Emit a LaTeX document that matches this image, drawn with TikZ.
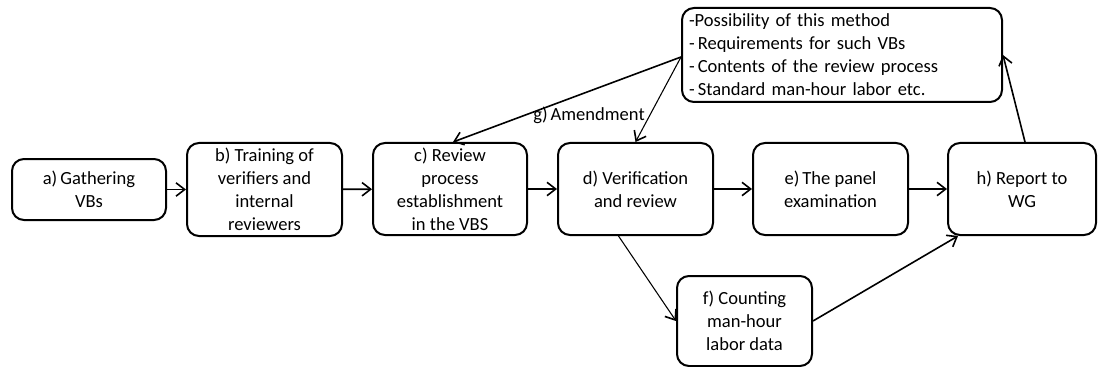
\documentclass[tikz,border=0pt]{standalone}
\usepackage{fontspec}
\setmainfont{Carlito}
\usetikzlibrary{arrows.meta,calc}
\begin{document}
\begin{tikzpicture}[x=0.75pt,y=-0.75pt,
  stage/.style={draw,line width=1.5pt,rounded corners=9pt,align=center,inner sep=0pt,
    font=\fontsize{13.9}{17.2}\selectfont},
  flow/.style={line width=1.2pt,-{Straight Barb[length=6.5pt,width=10pt,line width=1.2pt]}}]
\useasboundingbox (0,0) rectangle (1098,367);
\node[stage,minimum width=154*0.75pt,minimum height=61*0.75pt] (a) at (89,189.5) {a)\,Gathering\\VBs};
\node[stage,minimum width=155*0.75pt,minimum height=93*0.75pt] (b) at (264.5,189.5) {b) Training of\\verifiers and\\internal\\reviewers};
\node[stage,minimum width=154*0.75pt,minimum height=92*0.75pt] (c) at (450,189) {c) Review\\process\\establishment\\in the VBS};
\node[stage,minimum width=155*0.75pt,minimum height=92*0.75pt] (d) at (635.5,189) {d) Verification\\and review};
\node[stage,minimum width=155*0.75pt,minimum height=92*0.75pt] (e) at (830.5,189) {e)\,The panel\\examination};
\node[stage,minimum width=148*0.75pt,minimum height=92*0.75pt] (h) at (1022,189) {h) Report to\\WG};
\node[stage,minimum width=135*0.75pt,minimum height=90*0.75pt] (f) at (744.5,321) {f) Counting\\man-hour\\labor data};
\node[stage,align=left,text width=306*0.75pt,minimum width=320*0.75pt,minimum height=94*0.75pt] (notes) at (842,55)
  {-Possibility of this method\\-\,Requirements for such VBs\\-\,Contents of the review process\\-\,Standard man-hour labor etc.};
\node[font=\fontsize{13.9}{16}\selectfont,inner sep=0pt] (amend) at (589,115) {g)\,Amendment};
\draw[flow] (a) -- (b);
\draw[flow] (b) -- (c);
\draw[flow] (c) -- (d);
\draw[flow] (d) -- (e);
\draw[flow] (e) -- (h);
\draw[flow,line width=0.8pt] ($(d.south)+(-17,0)$) -- (f.west);
\draw[flow] (f.east) -- ($(h.south)+(-64,0)$);
\draw[flow] ($(h.north)+(3,0)$) -- (notes.east);
\draw[flow] ($(notes.west)+(0,2)$) -- ($(c.north)+(3,0)$);
\draw[flow,line width=0.8pt] ($(notes.west)+(0,2)$) -- (d.north);
\end{tikzpicture}
\end{document}
